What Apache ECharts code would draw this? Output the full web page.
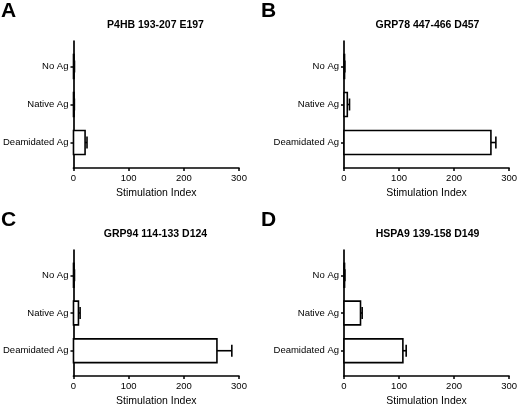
<!DOCTYPE html>
<html>
<head>
<meta charset="utf-8">
<script src="https://cdn.jsdelivr.net/npm/echarts@6/dist/echarts.min.js"></script>
<style>
  html, body { margin: 0; padding: 0; background: #fff; }
  #chart { width: 520px; height: 408px; }
</style>
</head>
<body>
<div id="chart"></div>
<script>
// categories top to bottom
const categories = ['No Ag', 'Native Ag', 'Deamidated Ag'];
const panelLetters = ['A', 'B', 'C', 'D'];
const panelTitles = ['P4HB 193-207 E197', 'GRP78 447-466 D457', 'GRP94 114-133 D124', 'HSPA9 139-158 D149'];
const xTicks = [0, 100, 200, 300];

// mean stimulation index per category, and error (SEM)
const p4hbMean = [1, 1, 21];
const p4hbErr = [0.8, 0.6, 3.5];
const grp78Mean = [1, 6, 267];
const grp78Err = [0.5, 4, 9];
const grp94Mean = [1, 9, 260];
const grp94Err = [0.8, 3, 27];
const hspa9Mean = [1, 30, 107];
const hspa9Err = [0.6, 3, 6];

const means = [p4hbMean, grp78Mean, grp94Mean, hspa9Mean];
const errs = [p4hbErr, grp78Err, grp94Err, hspa9Err];

const font = '"Liberation Sans", Arial, sans-serif';
const grids = [
    { left: 72, top: 41, width: 167, height: 127 },
    { left: 344, top: 41, width: 167, height: 127 },
    { left: 72, top: 250, width: 167, height: 127 },
    { left: 344, top: 250, width: 167, height: 127 }
];
const letterPos = [[1, 1], [261, 1], [1, 210], [261, 210]];

const chart = echarts.init(document.getElementById('chart'));

const renderBar = (params, api) => {
    const val = api.value(0);
    const idx = api.value(1);
    const err = api.value(2);
    const p0 = api.coord([0, idx]);
    const p1 = api.coord([val, idx]);
    const pe = api.coord([val + err, idx]);
    const h = api.size([0, 0.63])[1];
    return {
        type: 'group',
        children: [
            {
                type: 'rect',
                shape: { x: p0[0], y: p0[1] - h / 2, width: p1[0] - p0[0], height: h },
                style: { fill: '#fff', stroke: '#000', lineWidth: 1.6 }
            },
            {
                type: 'line',
                shape: { x1: p1[0], y1: p1[1], x2: pe[0], y2: pe[1] },
                style: { stroke: '#000', lineWidth: 1.6 }
            },
            {
                type: 'line',
                shape: { x1: pe[0], y1: pe[1] - h / 4, x2: pe[0], y2: pe[1] + h / 4 },
                style: { stroke: '#000', lineWidth: 1.6 }
            }
        ]
    };
};

const titles = [];
grids.forEach((g, i) => {
    titles.push({
        text: panelLetters[i],
        left: letterPos[i][0],
        top: letterPos[i][1],
        padding: 0,
        textStyle: { fontFamily: font, fontSize: 21, fontWeight: 'bold', color: '#000' }
    });
    titles.push({
        text: panelTitles[i],
        left: g.left + g.width / 2,
        top: g.top - 21,
        padding: 0,
        textAlign: 'center',
        textStyle: { fontFamily: font, fontSize: 10.5, fontWeight: 'bold', color: '#000' }
    });
});

const options = {
    animation: false,
    backgroundColor: '#fff',
    title: titles,
    grid: grids,
    xAxis: grids.map((g, i) => ({
        type: 'value',
        gridIndex: i,
        min: xTicks[0],
        max: xTicks[xTicks.length - 1],
        interval: 100,
        name: 'Stimulation Index',
        nameLocation: 'middle',
        nameGap: 20,
        nameTextStyle: { fontFamily: font, fontSize: 10.5, color: '#000' },
        axisLine: { show: true, onZero: false, lineStyle: { color: '#000', width: 1.7 } },
        axisTick: { show: true, length: 3, lineStyle: { color: '#000', width: 1.5 } },
        axisLabel: { fontFamily: font, fontSize: 9.5, color: '#000', margin: 5 },
        splitLine: { show: false }
    })),
    yAxis: grids.map((g, i) => ({
        type: 'value',
        gridIndex: i,
        inverse: true,
        min: -0.67,
        max: 2.67,
        axisLine: { show: true, onZero: false, lineStyle: { color: '#000', width: 1.7 } },
        axisTick: { show: true, length: 3, customValues: [0, 1, 2], lineStyle: { color: '#000', width: 1.5 } },
        axisLabel: {
            customValues: [0, 1, 2],
            formatter: v => categories[Math.round(v)],
            fontFamily: font, fontSize: 9.5, color: '#000', margin: 5
        },
        splitLine: { show: false }
    })),
    series: means.map((m, i) => ({
        type: 'custom',
        xAxisIndex: i,
        yAxisIndex: i,
        renderItem: renderBar,
        encode: { x: 0, y: 1 },
        clip: false,
        data: m.map((v, k) => [v, k, errs[i][k]])
    }))
};

chart.setOption(options);
</script>
</body>
</html>
